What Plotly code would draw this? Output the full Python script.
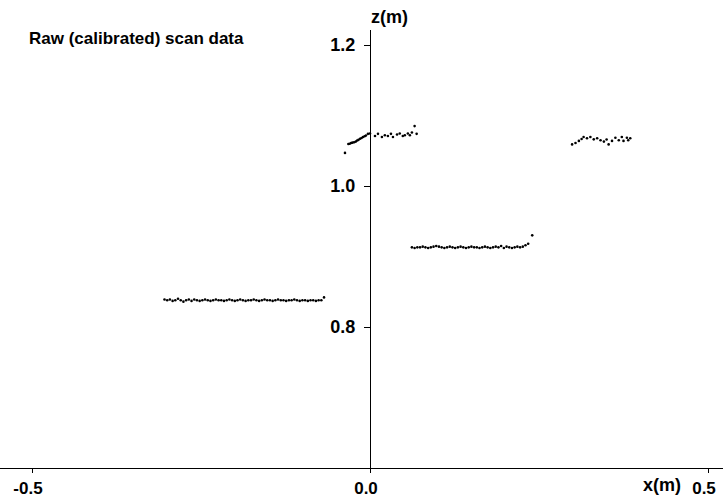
import plotly.graph_objects as go

# ---- data ----
seg1_x = [-0.304, -0.300, -0.296, -0.292, -0.288, -0.284, -0.280, -0.276, -0.272, -0.268,
          -0.264, -0.260, -0.256, -0.252, -0.248, -0.244, -0.240, -0.236, -0.232, -0.228,
          -0.224, -0.220, -0.216, -0.212, -0.208, -0.204, -0.200, -0.196, -0.192, -0.188,
          -0.184, -0.180, -0.176, -0.172, -0.168, -0.164, -0.160, -0.156, -0.152, -0.148,
          -0.144, -0.140, -0.136, -0.132, -0.128, -0.124, -0.120, -0.116, -0.112, -0.108,
          -0.104, -0.100, -0.096, -0.092, -0.088, -0.084, -0.080, -0.076, -0.072, -0.068]
seg1_z = [0.839, 0.838, 0.839, 0.837, 0.838, 0.840, 0.838, 0.836, 0.838, 0.839,
          0.837, 0.839, 0.838, 0.837, 0.838, 0.839, 0.838, 0.837, 0.838, 0.839,
          0.838, 0.838, 0.837, 0.838, 0.839, 0.838, 0.837, 0.838, 0.839, 0.838,
          0.837, 0.838, 0.838, 0.839, 0.838, 0.837, 0.838, 0.839, 0.838, 0.838,
          0.837, 0.838, 0.839, 0.838, 0.838, 0.837, 0.838, 0.838, 0.839, 0.838,
          0.837, 0.838, 0.838, 0.837, 0.838, 0.838, 0.837, 0.838, 0.838, 0.842]

seg2_x = [-0.037, -0.032, -0.030, -0.028, -0.026, -0.0235, -0.021, -0.019, -0.017, -0.0147,
          -0.0125, -0.0103, -0.008, -0.006, -0.003, 0.000, 0.0074, 0.0118, 0.0176, 0.022,
          0.0265, 0.031, 0.034, 0.040, 0.044, 0.0485, 0.0515, 0.056, 0.059, 0.062,
          0.066, 0.069]
seg2_z = [1.047, 1.0596, 1.060, 1.061, 1.0615, 1.062, 1.063, 1.0645, 1.0655, 1.067,
          1.068, 1.0695, 1.0705, 1.0716, 1.074, 1.0745, 1.071, 1.074, 1.0695, 1.072,
          1.071, 1.074, 1.0695, 1.073, 1.0745, 1.071, 1.072, 1.0745, 1.072, 1.076,
          1.085, 1.074]

seg3_x = [0.062, 0.066, 0.070, 0.074, 0.078, 0.082, 0.086, 0.090, 0.094, 0.098,
          0.102, 0.106, 0.110, 0.114, 0.118, 0.122, 0.126, 0.130, 0.134, 0.138,
          0.142, 0.146, 0.150, 0.154, 0.158, 0.162, 0.166, 0.170, 0.174, 0.178,
          0.182, 0.186, 0.190, 0.194, 0.198, 0.202, 0.206, 0.210, 0.214, 0.218,
          0.222, 0.226, 0.230, 0.234, 0.240]
seg3_z = [0.913, 0.912, 0.913, 0.913, 0.914, 0.913, 0.912, 0.913, 0.914, 0.915,
          0.914, 0.913, 0.912, 0.913, 0.914, 0.913, 0.912, 0.913, 0.914, 0.913,
          0.912, 0.913, 0.914, 0.913, 0.913, 0.912, 0.913, 0.914, 0.913, 0.912,
          0.913, 0.914, 0.913, 0.915, 0.912, 0.914, 0.913, 0.912, 0.913, 0.914,
          0.913, 0.914, 0.916, 0.918, 0.930]

seg4_x = [0.299, 0.304, 0.309, 0.313, 0.316, 0.321, 0.326, 0.331, 0.336, 0.341,
          0.346, 0.350, 0.353, 0.358, 0.363, 0.368, 0.3725, 0.375, 0.380, 0.382,
          0.385]
seg4_z = [1.059, 1.061, 1.064, 1.0667, 1.0695, 1.0677, 1.0695, 1.0662, 1.0677, 1.065,
          1.063, 1.066, 1.059, 1.064, 1.0685, 1.065, 1.0695, 1.064, 1.0685, 1.065,
          1.0677]

x_tickvals = [-0.5, 0.0, 0.5]
x_ticktext = ["-0.5", "0.0", "0.5"]
z_tickvals = [0.8, 1.0, 1.2]
z_ticktext = ["0.8", "1.0", "1.2"]

FONT = "Liberation Sans, Arial, sans-serif"
TICKFONT = dict(family=FONT, size=17, color="black", weight="bold")

fig = go.Figure()
for xs, zs in [(seg1_x, seg1_z), (seg2_x, seg2_z), (seg3_x, seg3_z), (seg4_x, seg4_z)]:
    fig.add_trace(go.Scatter(x=xs, y=zs, mode="markers",
                             marker=dict(size=2.6, color="black", line=dict(width=0)),
                             showlegend=False, hoverinfo="skip"))

fig.update_layout(
    width=723, height=498,
    margin=dict(l=0, r=0, t=30, b=30),
    plot_bgcolor="white", paper_bgcolor="white",
    font=dict(family=FONT, size=17, color="black"),
    xaxis=dict(range=[-370 / 676, 353 / 676], domain=[0, 1], showgrid=False, zeroline=False,
               showline=True, linecolor="black", linewidth=1.2,
               ticks="outside", ticklen=4, tickcolor="black", ticklabelshift=-4,
               tickvals=x_tickvals, ticktext=x_ticktext, tickfont=TICKFONT),
    yaxis=dict(range=[0.6, 1.2213], anchor="free", position=370 / 723,
               showgrid=False, zeroline=False,
               showline=True, linecolor="black", linewidth=1.2,
               ticks="outside", ticklen=6, tickcolor="black", ticklabelstandoff=5,
               tickvals=z_tickvals, ticktext=z_ticktext,
               tickfont=dict(family=FONT, size=18, color="black", weight="bold")),
)

fig.add_annotation(text="Raw (calibrated) scan data", xref="paper", yref="paper",
                   x=27 / 723, y=(468 - 39) / 438, xanchor="left", yanchor="middle",
                   showarrow=False, font=dict(family=FONT, size=17, color="black", weight="bold"))
fig.add_annotation(text="z(m)", xref="paper", yref="paper",
                   x=369 / 723, y=(468 - 17) / 438, xanchor="left", yanchor="middle",
                   showarrow=False, font=dict(family=FONT, size=18, color="black", weight="bold"))
fig.add_annotation(text="x(m)", xref="paper", yref="paper",
                   x=662 / 723, y=(468 - 485) / 438, xanchor="center", yanchor="middle",
                   showarrow=False, font=dict(family=FONT, size=18, color="black", weight="bold"))

fig.write_html("out.html")
